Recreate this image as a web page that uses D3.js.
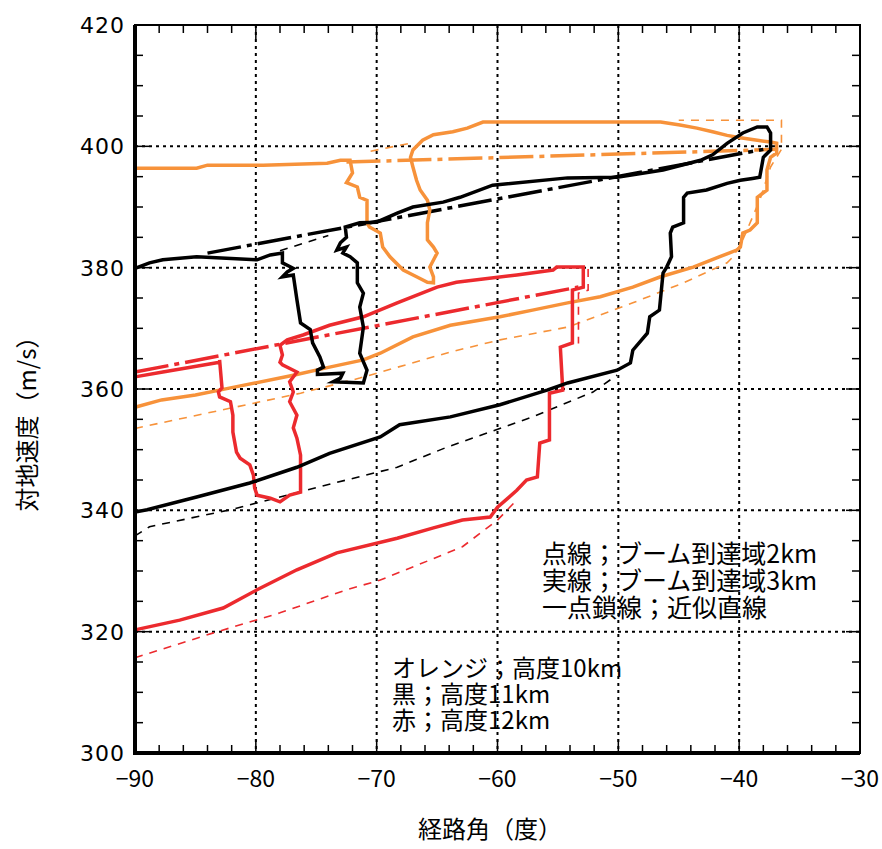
<!DOCTYPE html>
<html lang="ja">
<head>
<meta charset="utf-8">
<title>経路角と対地速度</title>
<script src="https://cdn.jsdelivr.net/npm/d3@7"></script>
<style>
  body { margin: 0; background: #fff; }
  text { font-family: "Noto Sans CJK JP", "DejaVu Sans", sans-serif; }
</style>
</head>
<body>
<script>
// 軸
var xTicks = [-90, -80, -70, -60, -50, -40, -30];
var yTicks = [300, 320, 340, 360, 380, 400, 420];

// オレンジ；高度10km
var orange3km = [[-90,396.4],[-84.9,396.4],[-84.0,396.9],[-79.4,396.9],[-74.1,397.2],[-73.0,397.7],[-72.2,397.7],[-72.0,395.6],[-72.5,394.0],[-71.6,393.3],[-71.4,391.6],[-70.8,391.1],[-70.8,387.4],[-70.6,386.7],[-69.7,385.7],[-69.5,383.4],[-68.9,381.8],[-67.8,379.6],[-66.7,378.5],[-65.8,377.6],[-65.3,377.5],[-65.3,378.5],[-65.6,380.1],[-65.0,382.4],[-65.3,383.4],[-65.8,384.6],[-65.8,387.4],[-65.6,389.5],[-65.8,391.1],[-66.4,392.8],[-66.7,394.4],[-67.0,396.6],[-67.2,398.2],[-67.0,399.4],[-66.2,401.0],[-65.3,401.9],[-63.7,402.4],[-62.5,403.0],[-61.2,404.0],[-46.5,404.0],[-44.9,403.5],[-43.5,403.0],[-42.2,402.4],[-41.0,401.8],[-39.9,401.4],[-38.5,401.0],[-37.4,400.7],[-36.9,400.5],[-36.9,398.9],[-37.4,398.2],[-37.7,396.1],[-37.7,392.8],[-38.5,391.6],[-38.5,387.4],[-39.1,386.2],[-39.7,385.7],[-39.9,383.4],[-40.2,382.9],[-41.6,381.8],[-43.8,380.1],[-46.5,378.5],[-48.8,376.8],[-51.5,375.2],[-54.2,374.2],[-57.1,373.0],[-59.8,371.9],[-63.9,370.5],[-67.0,368.6],[-69.7,365.9],[-71.1,364.8],[-73.9,363.6],[-76.8,362.3],[-82.3,360.1],[-85.0,359.0],[-87.8,358.2],[-90,357.0]];
var orange2km = [[-90,353.5],[-76.3,359.3],[-71.4,361.8],[-63.9,366.1],[-59.8,368.1],[-54.2,370.2],[-48.8,374.2],[-44.6,377.5],[-41.0,380.8],[-40.5,381.8],[-39.7,384.6],[-38.3,391.1],[-37.4,396.6],[-36.5,399.5],[-36.5,404.3],[-45.0,404.3]];
var orange2kmTop = [[-70.5,399.2],[-67.0,400.6]];
var orangeFit = [[-72.5,397.4],[-36.8,399.5]];

// 黒；高度11km
var black3km = [[-90,379.9],[-88.8,380.8],[-87.7,381.3],[-84.9,381.8],[-79.9,381.3],[-78.8,382.1],[-77.8,382.4],[-77.8,380.8],[-76.9,379.9],[-77.4,379.3],[-77.8,378.5],[-76.9,378.8],[-76.6,374.7],[-76.3,370.9],[-75.5,369.8],[-75.3,367.6],[-74.7,365.3],[-74.4,363.6],[-74.9,363.1],[-74.9,362.4],[-72.8,362.6],[-73.0,361.8],[-73.6,361.2],[-71.1,361.0],[-70.8,363.1],[-71.4,365.9],[-71.1,370.2],[-71.4,373.5],[-71.1,375.8],[-71.6,377.5],[-71.6,380.8],[-72.2,381.8],[-72.8,382.4],[-72.5,383.4],[-73.3,382.9],[-73.0,384.1],[-72.5,385.0],[-72.6,386.7],[-71.4,387.4],[-70.0,387.5],[-68.3,389.0],[-67.0,390.0],[-64.5,390.8],[-63.1,391.6],[-60.4,393.6],[-54.2,394.8],[-50.1,394.9],[-46.3,396.1],[-43.2,397.7],[-42.2,398.6],[-41.0,400.5],[-39.7,402.2],[-38.5,403.2],[-37.7,403.2],[-37.4,402.2],[-37.4,399.4],[-38.0,398.2],[-38.3,394.9],[-38.9,394.7],[-39.9,394.4],[-41.0,393.9],[-42.7,392.8],[-44.3,392.3],[-44.6,391.6],[-44.6,387.4],[-45.5,386.7],[-45.7,385.7],[-45.6,381.8],[-46.0,380.1],[-46.3,379.1],[-46.6,373.0],[-47.4,371.9],[-47.6,369.2],[-48.8,366.4],[-49.0,364.3],[-50.1,363.1],[-54.2,361.0],[-55.9,359.8],[-59.8,357.4],[-63.9,355.4],[-68.1,354.1],[-69.7,352.1],[-73.9,349.4],[-76.6,347.1],[-80.5,344.5],[-84.9,342.2],[-89.0,340.1],[-90,339.7]];
var black2km = [[-90,335.8],[-88.8,337.3],[-82.1,340.1],[-78.0,342.2],[-74.9,343.8],[-68.3,347.1],[-64.2,350.4],[-62.5,351.6],[-57.1,355.4],[-52.1,359.5],[-50.1,362.3]];
var black2kmUpper = [[-78.0,382.8],[-74.0,385.3]];
var blackFit = [[-84,382.4],[-38,399.5]];

// 赤；高度12km
var red3km = [[-90,362.0],[-87.7,362.8],[-85.4,363.6],[-83.0,364.4],[-83.0,364.8],[-82.8,360.2],[-83.1,359.5],[-83.0,358.7],[-82.1,357.9],[-81.9,355.7],[-81.9,352.9],[-81.6,349.6],[-81.3,348.6],[-80.5,347.5],[-80.2,345.8],[-80.1,343.7],[-79.9,342.5],[-78.8,342.0],[-78.0,341.4],[-77.2,342.5],[-76.3,343.0],[-76.3,347.0],[-76.3,349.1],[-76.6,351.9],[-76.9,353.6],[-76.6,355.7],[-77.2,357.9],[-76.9,359.5],[-77.2,361.2],[-76.6,362.8],[-77.8,364.0],[-78.0,364.4],[-77.8,365.6],[-78.0,367.2],[-77.4,368.1],[-76.1,368.9],[-73.9,370.5],[-71.1,371.9],[-68.3,374.2],[-65.0,376.8],[-63.4,377.6],[-58.4,378.8],[-55.4,379.6],[-55.1,380.1],[-52.9,380.1],[-52.9,376.8],[-53.8,376.3],[-53.8,367.6],[-54.8,366.9],[-54.6,359.8],[-55.7,359.3],[-55.7,351.6],[-56.5,351.1],[-56.7,345.5],[-57.6,345.0],[-58.4,343.3],[-60.0,340.5],[-60.6,338.9],[-62.9,338.4],[-65.3,337.1],[-68.3,335.4],[-73.3,333.0],[-76.6,330.2],[-79.9,326.9],[-82.7,323.9],[-86.3,321.9],[-90,320.3]];
var red2km = [[-90,315.7],[-83.5,319.8],[-78.0,323.1],[-72.5,326.9],[-69.7,328.5],[-65.6,331.8],[-62.9,334.0],[-60.0,338.4],[-58.5,341.5]];
var red2kmRight = [[-52.5,379.8],[-52.5,376.3],[-53.3,375.8],[-53.3,367.5]];
var redFit = [[-90,362.8],[-53.3,376.8]];

var noteLines = ["点線；ブーム到達域2km", "実線；ブーム到達域3km", "一点鎖線；近似直線"];
var colorLines = ["オレンジ；高度10km", "黒；高度11km", "赤；高度12km"];

var W = 882, H = 849;
var pL = 135, pR = 860, pT = 25, pB = 753;

var svg = d3.select("body").append("svg")
    .attr("width", W)
    .attr("height", H);

var x = d3.scaleLinear().domain([-90, -30]).range([pL, pR]);
var y = d3.scaleLinear().domain([300, 420]).range([pB, pT]);

var ORANGE = "#f7923a", BLACK = "#000", RED = "#ec2a2e";

// 格子
svg.append("g").selectAll("line")
  .data(xTicks.slice(1, -1)).enter().append("line")
  .attr("x1", d => x(d)).attr("x2", d => x(d))
  .attr("y1", pT).attr("y2", pB)
  .attr("stroke", "#000").attr("stroke-width", 2).attr("stroke-dasharray", "3,4");
svg.append("g").selectAll("line")
  .data(yTicks.slice(1, -1)).enter().append("line")
  .attr("y1", d => y(d)).attr("y2", d => y(d))
  .attr("x1", pL).attr("x2", pR)
  .attr("stroke", "#000").attr("stroke-width", 2).attr("stroke-dasharray", "3,4");

// 線
var line = d3.line().x(d => x(d[0])).y(d => y(d[1]));
var plot = svg.append("g");

function draw(data, color, kind) {
  var p = plot.append("path").attr("d", line(data))
    .attr("fill", "none").attr("stroke", color)
    .attr("stroke-linejoin", "miter");
  if (kind == "solid") p.attr("stroke-width", 3.5);
  if (kind == "fit") p.attr("stroke-width", 3.5).attr("stroke-dasharray", "34,6,5,6");
  if (kind == "dot") p.attr("stroke-width", 1.6).attr("stroke-dasharray", "8,7");
}

draw(orange2km, ORANGE, "dot");
draw(orange2kmTop, ORANGE, "dot");
draw(black2km, BLACK, "dot");
draw(black2kmUpper, BLACK, "dot");
draw(red2km, RED, "dot");
draw(red2kmRight, RED, "dot");
draw(orangeFit, ORANGE, "fit");
draw(blackFit, BLACK, "fit");
draw(redFit, RED, "fit");
draw(orange3km, ORANGE, "solid");
draw(red3km, RED, "solid");
draw(black3km, BLACK, "solid");

// 目盛
var xMinor = d3.range(-90, -29, 2).filter(d => d % 10 != 0);
var yMinor = d3.range(300, 421, 5).filter(d => d % 20 != 0);

function tickLines(vals, isX, side, len) {
  svg.append("g").selectAll("line").data(vals).enter().append("line")
    .attr("x1", d => isX ? x(d) : side)
    .attr("x2", d => isX ? x(d) : side + len)
    .attr("y1", d => isX ? side : y(d))
    .attr("y2", d => isX ? side + len : y(d))
    .attr("stroke", "#000").attr("stroke-width", 1.5);
}
tickLines(xMinor, true, pB, -8);
tickLines(xTicks, true, pB, -14);
tickLines(xMinor, true, pT, 8);
tickLines(xTicks, true, pT, 14);
tickLines(yMinor, false, pL, 8);
tickLines(yTicks, false, pL, 14);
tickLines(yMinor, false, pR, -8);
tickLines(yTicks, false, pR, -14);

// 枠
svg.append("rect").attr("x", pL).attr("y", pT)
  .attr("width", pR - pL).attr("height", pB - pT)
  .attr("fill", "none").attr("stroke", "#000").attr("stroke-width", 2);
svg.append("path")
  .attr("d", "M" + pL + "," + pT + "V" + pB + "H" + pR)
  .attr("fill", "none").attr("stroke", "#000").attr("stroke-width", 4);

// 目盛ラベル
svg.append("g").selectAll("text").data(xTicks).enter().append("text")
  .attr("x", d => x(d)).attr("y", pB + 34)
  .attr("text-anchor", "middle").attr("font-size", 23)
  .text(d => d3.format("d")(d));
svg.append("g").selectAll("text").data(yTicks).enter().append("text")
  .attr("x", pL - 10).attr("y", d => y(d) + 8)
  .attr("text-anchor", "end").attr("font-size", 22)
  .attr("letter-spacing", 1)
  .style("font-family", "'DejaVu Sans', sans-serif")
  .text(d => d);

// 軸タイトル
svg.append("text").attr("x", 490).attr("y", 838)
  .attr("text-anchor", "middle").attr("font-size", 24)
  .text("経路角（度）");
svg.append("text")
  .attr("transform", "translate(36,418) rotate(-90)")
  .attr("text-anchor", "middle").attr("font-size", 24)
  .text("対地速度（m/s）");

// 凡例
svg.append("g").selectAll("text").data(noteLines).enter().append("text")
  .attr("x", 542).attr("y", (d, i) => 563 + i * 27)
  .attr("font-size", 25)
  .text(d => d);
svg.append("g").selectAll("text").data(colorLines).enter().append("text")
  .attr("x", 392).attr("y", (d, i) => 677 + i * 26)
  .attr("font-size", 24)
  .text(d => d);
</script>
</body>
</html>
